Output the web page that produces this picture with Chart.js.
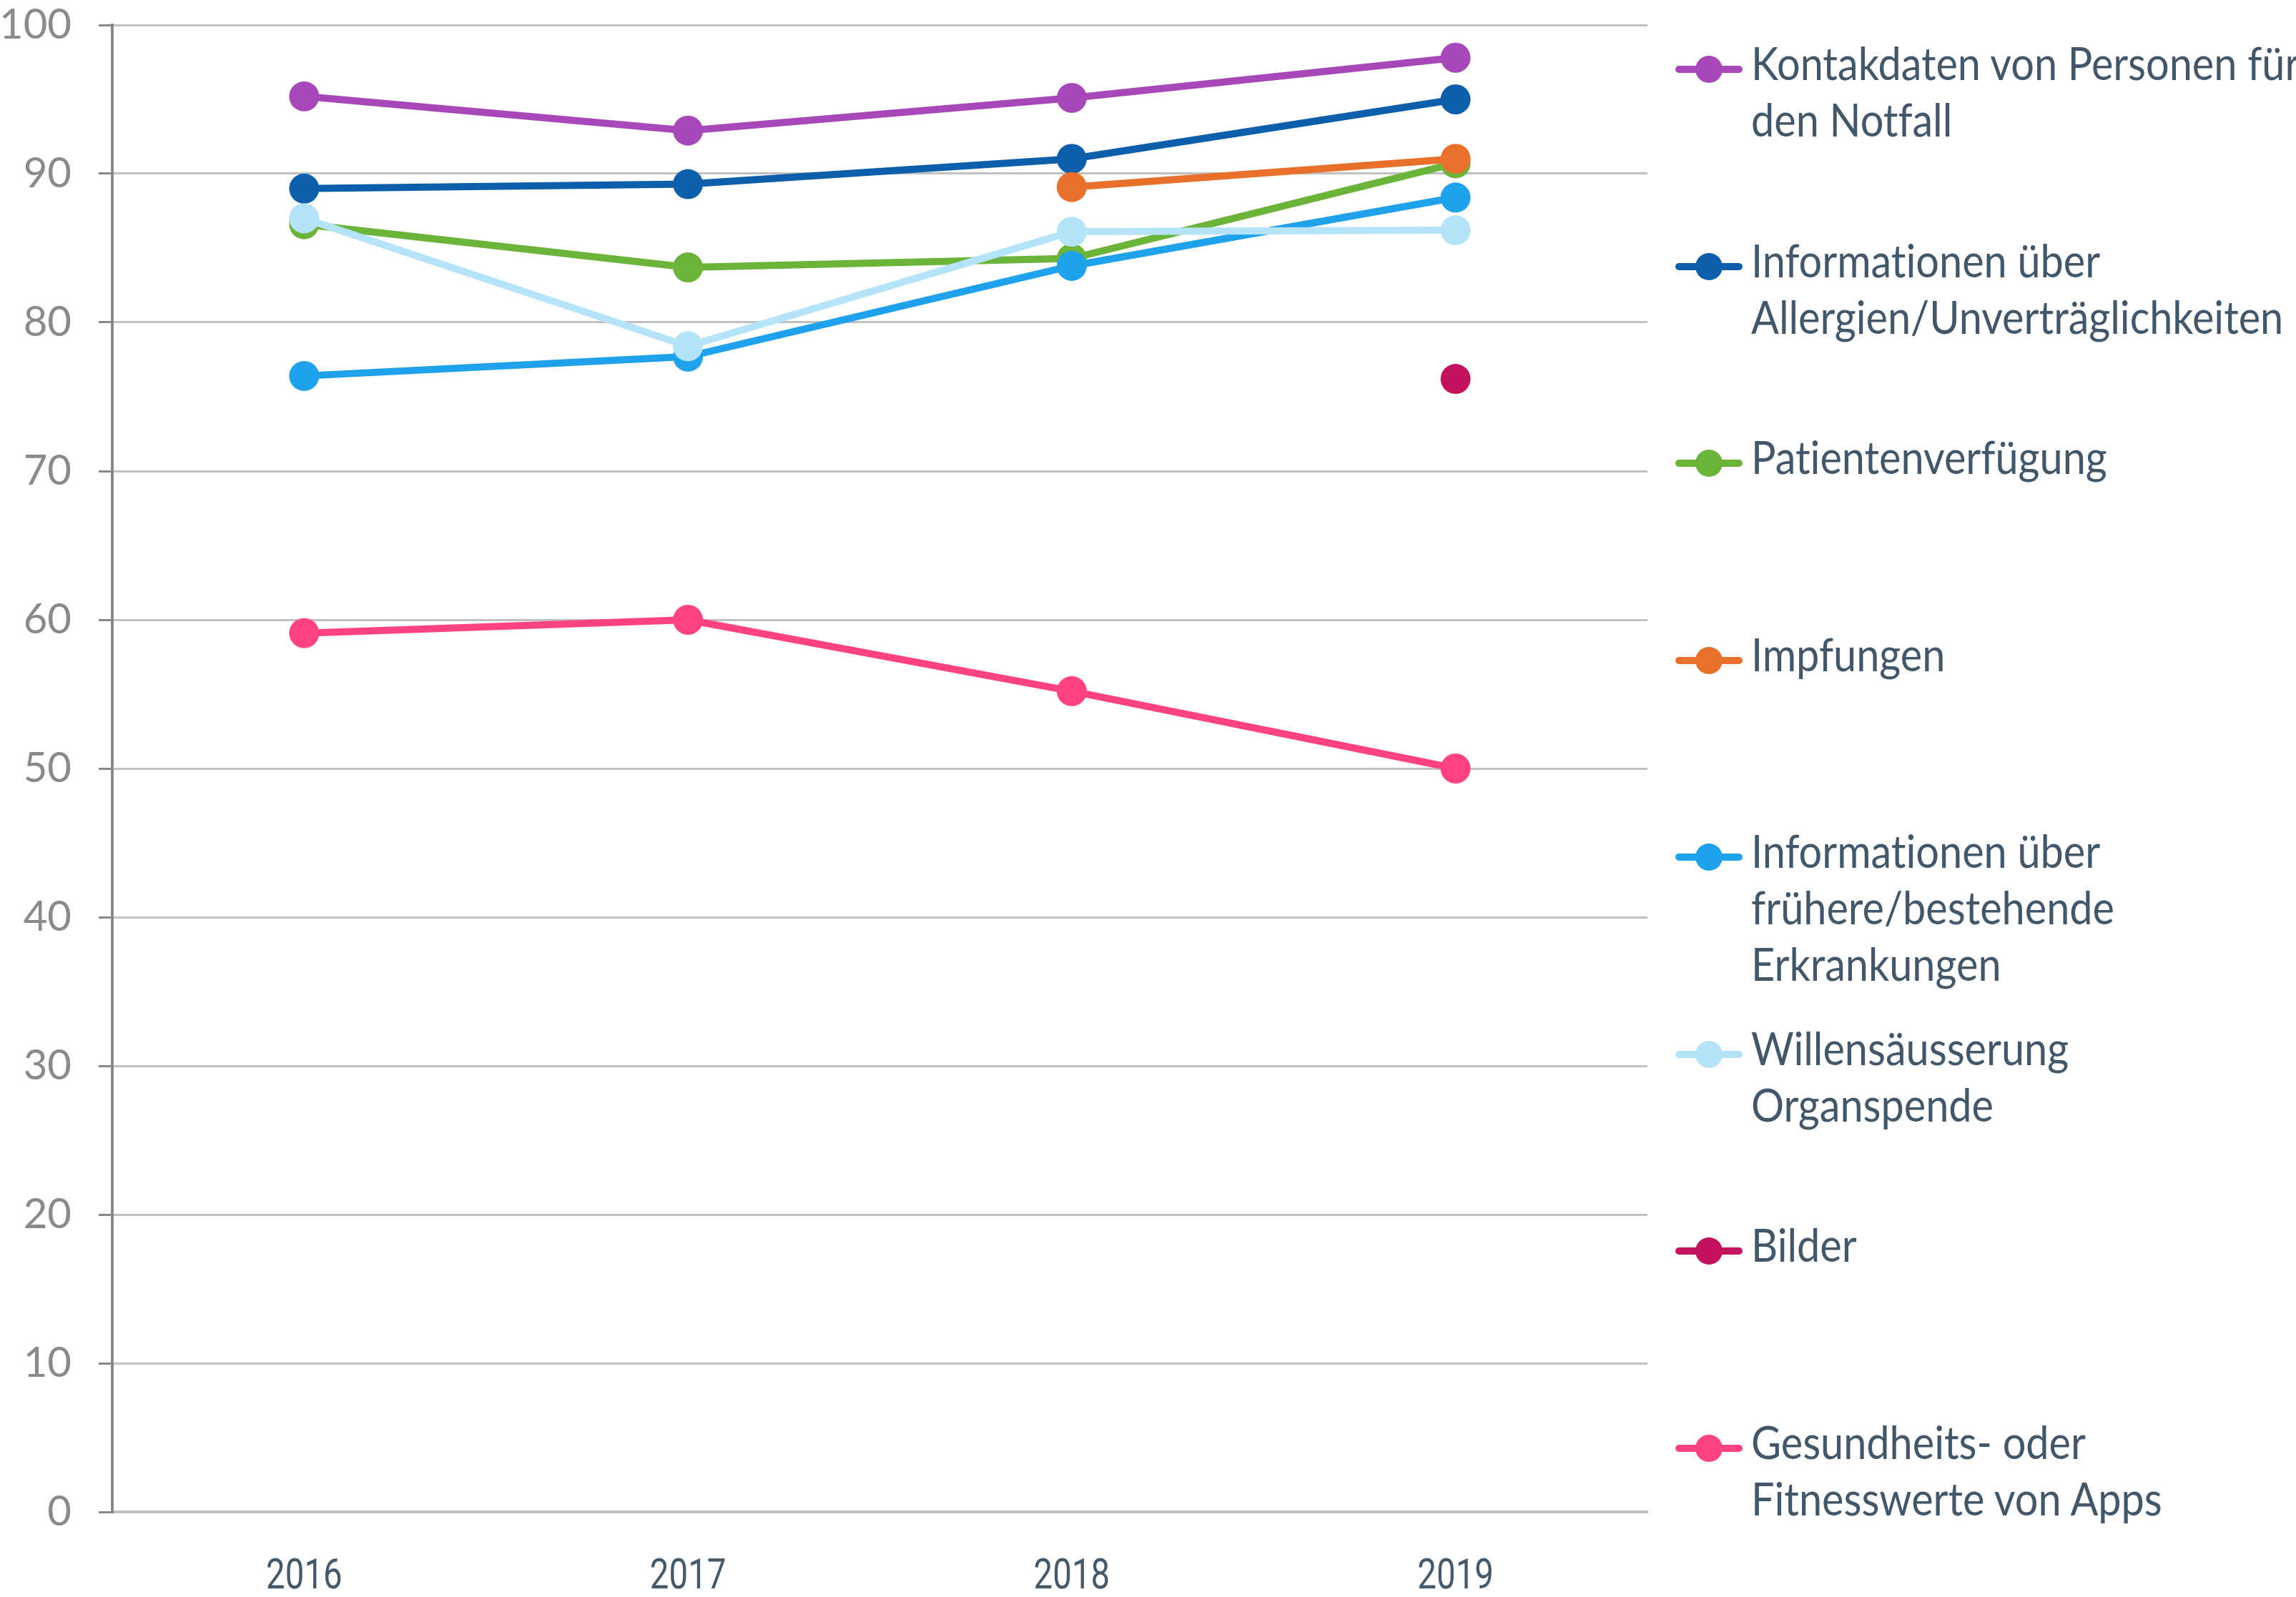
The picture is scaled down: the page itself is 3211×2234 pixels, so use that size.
<!DOCTYPE html>
<html lang="de">
<head>
<meta charset="utf-8">
<title>Gespeicherte Daten 2016–2019</title>
<script src="https://cdn.jsdelivr.net/npm/chart.js@4.4.1/dist/chart.umd.min.js"></script>
<style>
  html, body { margin: 0; padding: 0; background: #fff; }
  #wrap { position: relative; width: 3211px; height: 2234px; }
  #chart { position: absolute; left: 0; top: 0; }
  #legend { position: absolute; left: 0; top: 0; font-family: Lato, 'Noto Sans', sans-serif; font-size: 64px; color: #42576a; font-variant-ligatures: none; }
  .item { position: absolute; left: 2343px; display: flex; align-items: flex-start; }
  .mark { position: relative; width: 94px; height: 79px; flex: none; }
  .mark .ln { position: absolute; left: 0; right: 0; top: 44px; height: 10px; border-radius: 5px; }
  .mark .dot { position: absolute; left: 28px; top: 30px; width: 38px; height: 38px; border-radius: 50%; }
  .txt { margin-left: 12px; line-height: 79px; white-space: nowrap; transform: scaleX(0.9); transform-origin: left top; }
</style>
</head>
<body>
<div id="wrap">
  <canvas id="chart" width="3211" height="2234"></canvas>
  <div id="legend"></div>
</div>
<script>
// categories
const years = ['2016', '2017', '2018', '2019'];

// series values (percent)
const kontaktdaten = [95.2, 92.9, 95.1, 97.8];
const allergien = [89.0, 89.3, 91.0, 95.0];
const patientenverfuegung = [86.6, 83.7, 84.3, 90.7];
const impfungen = [null, null, 89.1, 91.0];
const erkrankungen = [76.4, 77.7, 83.8, 88.4];
const organspende = [87.0, 78.4, 86.1, 86.2];
const bilder = [null, null, null, 76.2];
const fitnessApps = [59.1, 60.0, 55.2, 50.0];

// legend labels, one entry per line of text
const seriesLabels = [
  ['Kontakdaten von Personen für', 'den Notfall'],
  ['Informationen über', 'Allergien/Unverträglichkeiten'],
  ['Patientenverfügung'],
  ['Impfungen'],
  ['Informationen über', 'frühere/bestehende', 'Erkrankungen'],
  ['Willensäusserung', 'Organspende'],
  ['Bilder'],
  ['Gesundheits- oder', 'Fitnesswerte von Apps']
];

// y axis range
const yMin = 0;
const yMax = 100;
const yStep = 10;

const seriesData = [kontaktdaten, allergien, patientenverfuegung, impfungen,
  erkrankungen, organspende, bilder, fitnessApps];
const seriesColors = ['#a848b8', '#0e5fab', '#6cb33a', '#e8702a',
  '#1fa2eb', '#b5e4fa', '#c4135e', '#ff4382'];

const datasets = seriesData.map((data, i) => ({
  label: seriesLabels[i].join(' '),
  data,
  borderColor: seriesColors[i],
  backgroundColor: seriesColors[i],
  pointBackgroundColor: seriesColors[i],
  borderWidth: 10,
  pointRadius: 21,
  pointBorderWidth: 0,
  tension: 0,
  // later series sit on top, like the original
  order: seriesData.length - i
}));

// x labels in the original use a condensed face; squeeze them horizontally
const condensedXTicks = {
  id: 'condensedXTicks',
  afterDraw(chart) {
    const scale = chart.scales.x;
    const ctx = chart.ctx;
    ctx.save();
    ctx.fillStyle = '#44596a';
    ctx.font = "60px Roboto, 'Noto Sans', sans-serif";
    ctx.textAlign = 'center';
    ctx.textBaseline = 'middle';
    scale.ticks.forEach((t, i) => {
      const x = scale.getPixelForTick(i);
      ctx.save();
      ctx.translate(x, scale.top + 92);
      ctx.scale(0.79, 1);
      ctx.fillText(scale.getLabelForValue(t.value), 0, 0);
      ctx.restore();
    });
    ctx.restore();
  }
};

new Chart(document.getElementById('chart'), {
  type: 'line',
  data: { labels: years, datasets },
  options: {
    responsive: false,
    animation: false,
    devicePixelRatio: 1,
    layout: { autoPadding: false, padding: { top: 0, right: 907, left: 0, bottom: 0 } },
    plugins: {
      legend: { display: false },
      tooltip: { enabled: false }
    },
    elements: { line: { borderCapStyle: 'round' } },
    datasets: { line: { clip: false } },
    scales: {
      x: {
        offset: true,
        grid: { display: false, drawTicks: false },
        border: { display: true, color: '#c0c0c0', width: 4 },
        ticks: { display: false },
        afterFit: (scale) => { scale.height = 119; }
      },
      y: {
        min: yMin,
        max: yMax,
        grid: { color: '#c0c0c0', lineWidth: 3, tickLength: 19, tickColor: '#888888', tickWidth: 3 },
        border: { display: true, color: '#888888', width: 4 },
        ticks: {
          stepSize: yStep,
          padding: 38,
          color: '#8a8a8a',
          font: { family: "Lato, 'Noto Sans', sans-serif", size: 58 }
        },
        afterFit: (scale) => {
          scale.width = 157;
          // tick padding would otherwise push the plot top down
          scale.paddingTop = 35;
          scale.paddingBottom = 0;
        }
      }
    }
  },
  plugins: [condensedXTicks]
});

// side legend as HTML text
const legend = document.getElementById('legend');
seriesLabels.forEach((lines, i) => {
  const item = document.createElement('div');
  item.className = 'item';
  item.style.top = Math.round(48 + i * 275.5) + 'px';
  const mark = document.createElement('div');
  mark.className = 'mark';
  const ln = document.createElement('div');
  ln.className = 'ln';
  ln.style.background = seriesColors[i];
  const dot = document.createElement('div');
  dot.className = 'dot';
  dot.style.background = seriesColors[i];
  mark.appendChild(ln);
  mark.appendChild(dot);
  const txt = document.createElement('div');
  txt.className = 'txt';
  lines.forEach((t, k) => {
    if (k) txt.appendChild(document.createElement('br'));
    txt.appendChild(document.createTextNode(t));
  });
  item.appendChild(mark);
  item.appendChild(txt);
  legend.appendChild(item);
});
</script>
</body>
</html>
